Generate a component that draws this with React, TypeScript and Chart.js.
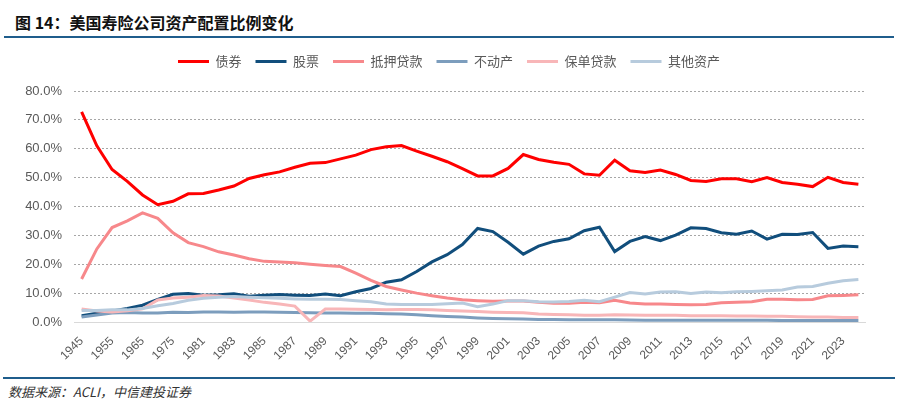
import React, { useEffect, useRef } from 'react';
import { Chart, registerables } from 'chart.js';

Chart.register(...registerables);

const years = [
  '1945', '1950', '1955', '1960', '1965', '1970', '1975', '1980', '1981', '1982',
  '1983', '1984', '1985', '1986', '1987', '1988', '1989', '1990', '1991', '1992',
  '1993', '1994', '1995', '1996', '1997', '1998', '1999', '2000', '2001', '2002',
  '2003', '2004', '2005', '2006', '2007', '2008', '2009', '2010', '2011', '2012',
  '2013', '2014', '2015', '2016', '2017', '2018', '2019', '2020', '2021', '2022',
  '2023', '2024',
];

// 债券
const bonds = [
  72.8, 61.0, 52.8, 48.7, 44.0, 40.6, 41.8, 44.4, 44.5, 45.7,
  47.1, 49.7, 51.0, 52.0, 53.6, 55.0, 55.2, 56.5, 57.8, 59.7,
  60.7, 61.1, 59.2, 57.4, 55.5, 53.1, 50.6, 50.6, 53.2, 58.0,
  56.3, 55.3, 54.6, 51.3, 50.8, 56.0, 52.4, 51.8, 52.6, 51.1,
  49.0, 48.7, 49.6, 49.6, 48.6, 50.0, 48.3, 47.7, 46.9, 50.1,
  48.3, 47.7,
];

// 股票
const stocks = [
  2.2, 3.0, 3.8, 4.7, 5.8, 7.8, 9.6, 9.9, 9.3, 9.4,
  9.8, 8.9, 9.3, 9.5, 9.3, 9.2, 9.7, 9.1, 10.5, 11.6,
  13.8, 14.6, 17.5, 20.8, 23.3, 26.8, 32.4, 31.3, 27.6, 23.5,
  26.3, 27.9, 28.8, 31.6, 32.8, 24.4, 27.9, 29.6, 28.2, 30.1,
  32.6, 32.4, 30.9, 30.4, 31.5, 28.7, 30.4, 30.3, 31.0, 25.5,
  26.3, 26.1,
];

// 抵押贷款
const mortgages = [
  14.9, 25.3, 32.7, 35.0, 37.8, 35.9, 30.9, 27.5, 26.1, 24.3,
  23.2, 21.9, 21.0, 20.8, 20.5, 20.0, 19.6, 19.2, 16.9, 14.4,
  12.3, 11.1, 10.0, 9.1, 8.3, 7.7, 7.4, 7.2, 7.3, 7.3,
  6.8, 6.5, 6.5, 6.8, 6.7, 7.5, 6.6, 6.2, 6.2, 6.1,
  6.0, 6.1, 6.7, 6.8, 7.0, 7.9, 7.9, 7.7, 7.8, 9.1,
  9.2, 9.4,
];

// 不动产
const realEstate = [
  1.7, 2.4, 3.1, 3.3, 3.1, 3.1, 3.4, 3.3, 3.5, 3.5,
  3.4, 3.5, 3.5, 3.4, 3.3, 3.2, 3.1, 3.1, 3.0, 3.0,
  2.9, 2.8, 2.5, 2.2, 1.9, 1.7, 1.4, 1.2, 1.1, 1.0,
  0.9, 0.9, 0.8, 0.8, 0.8, 0.8, 0.7, 0.6, 0.6, 0.6,
  0.6, 0.6, 0.6, 0.6, 0.6, 0.6, 0.5, 0.5, 0.5, 0.5,
  0.5, 0.5,
];

// 保单贷款
const policyLoans = [
  4.5, 3.8, 3.5, 3.9, 4.6, 7.6, 8.3, 8.6, 9.2, 9.0,
  8.3, 7.6, 6.8, 6.2, 5.5, 0.3, 4.5, 4.5, 4.4, 4.3,
  4.2, 4.3, 4.3, 4.2, 4.0, 3.8, 3.6, 3.4, 3.3, 3.2,
  2.8, 2.6, 2.5, 2.3, 2.3, 2.5, 2.4, 2.3, 2.3, 2.3,
  2.2, 2.2, 2.2, 2.1, 2.1, 2.0, 2.0, 1.8, 1.7, 1.7,
  1.6, 1.6,
];

// 其他资产
const otherAssets = [
  4.0, 4.0, 4.2, 4.2, 4.7, 5.6, 6.4, 7.5, 8.2, 8.6,
  8.8, 8.6, 8.4, 8.2, 8.0, 7.9, 7.9, 7.8, 7.4, 7.0,
  6.2, 6.1, 6.1, 6.1, 6.3, 6.6, 5.3, 6.2, 7.4, 7.4,
  7.0, 6.9, 7.1, 7.5, 7.0, 8.6, 10.2, 9.7, 10.4, 10.5,
  9.9, 10.4, 10.1, 10.5, 10.6, 10.8, 11.1, 12.1, 12.3, 13.4,
  14.3, 14.7,
];

const seriesNames = ['债券', '股票', '抵押贷款', '不动产', '保单贷款', '其他资产'];
const seriesData = [bonds, stocks, mortgages, realEstate, policyLoans, otherAssets];
const seriesColors = ['#FF0000', '#114E7C', '#F7888B', '#7C9DBD', '#F8B6B8', '#B7CBDD'];

const FONT = '"Liberation Sans", "Noto Sans CJK SC", sans-serif';

// pushes the plot down a bit below the legend
const legendGap = {
  id: 'legendGap',
  beforeInit(chart: any) {
    const legend = chart.legend;
    if (!legend) return;
    const fit = legend.fit;
    legend.fit = function () {
      fit.call(this);
      this.height += 13;
    };
  },
};

const AllocationChart: React.FC = () => {
  const chartRef = useRef<HTMLCanvasElement>(null);
  const chartInstance = useRef<Chart | null>(null);

  useEffect(() => {
    if (!chartRef.current) return;
    const ctx = chartRef.current.getContext('2d');
    if (!ctx) return;
    if (chartInstance.current) chartInstance.current.destroy();

    chartInstance.current = new Chart(ctx, {
      type: 'line',
      data: {
        labels: years,
        datasets: seriesNames.map((name, i) => ({
          label: name,
          data: seriesData[i],
          borderColor: seriesColors[i],
          backgroundColor: seriesColors[i],
          borderWidth: 3,
          pointRadius: 0,
          tension: 0,
          order: seriesNames.length - i,
        })),
      },
      options: {
        animation: false,
        responsive: true,
        maintainAspectRatio: false,
        layout: { padding: 0 },
        plugins: {
          tooltip: { enabled: false },
          legend: {
            display: true,
            position: 'top',
            labels: {
              boxWidth: 31,
              boxHeight: 3,
              padding: 14,
              color: '#595959',
              font: { family: '"Noto Sans CJK SC", sans-serif', size: 13 },
              sort: (a, b) => (a.datasetIndex ?? 0) - (b.datasetIndex ?? 0),
              generateLabels: (chart) => {
                const items = Chart.defaults.plugins.legend.labels.generateLabels(chart);
                return items.map((it) => ({ ...it, lineWidth: 0, fillStyle: it.strokeStyle }));
              },
            },
          },
        },
        scales: {
          x: {
            offset: true,
            grid: { display: false },
            border: { display: false },
            afterFit: (s) => {
              s.height = 49;
            },
            ticks: {
              autoSkip: false,
              maxRotation: 45,
              minRotation: 45,
              padding: 4,
              color: '#595959',
              font: { family: FONT, size: 12 },
              callback: (_v, i) => (i % 2 === 0 ? years[i] : ''),
            },
          },
          y: {
            min: 0,
            max: 80,
            afterFit: (s) => {
              s.width = 74;
            },
            grid: {
              drawTicks: false,
              lineWidth: 1,
              color: (c) => (c.tick && c.tick.value === 0 ? '#D9D9D9' : '#A6A6A6'),
            },
            border: {
              display: false,
              dash: (c) => (c.tick && c.tick.value === 0 ? [] : [2, 2]),
            },
            ticks: {
              stepSize: 10,
              padding: 12,
              color: '#595959',
              font: { family: FONT, size: 13 },
              callback: (v) => Number(v).toFixed(1) + '%',
            },
          },
          // empty right-hand margin so the legend stays centred on the page
          yRight: {
            position: 'right',
            grid: { display: false },
            border: { display: false },
            ticks: { display: false },
            afterFit: (s) => {
              s.width = 32;
            },
          },
        },
      },
      plugins: [legendGap],
    });

    return () => {
      if (chartInstance.current) {
        chartInstance.current.destroy();
        chartInstance.current = null;
      }
    };
  }, []);

  return <canvas ref={chartRef} />;
};

export default function App() {
  return (
    <div
      style={{
        position: 'absolute',
        left: 0,
        top: 0,
        width: 898,
        height: 406,
        background: '#fff',
        overflow: 'hidden',
        fontFamily: '"Noto Sans CJK SC", sans-serif',
      }}
    >
      <div
        style={{
          position: 'absolute',
          left: 15,
          top: 10,
          fontSize: 16,
          fontWeight: 700,
          color: '#111',
          lineHeight: '24px',
        }}
      >
        图 14：美国寿险公司资产配置比例变化
      </div>
      <div style={{ position: 'absolute', left: 4, top: 36, width: 890, height: 2, background: '#1F5D8C' }} />
      <div style={{ position: 'absolute', left: 0, top: 41, width: 898, height: 330 }}>
        <AllocationChart />
      </div>
      <div style={{ position: 'absolute', left: 3, top: 377, width: 892, height: 2, background: '#1F5D8C' }} />
      <div
        style={{
          position: 'absolute',
          left: 8,
          top: 382,
          fontSize: 13,
          fontStyle: 'italic',
          color: '#333',
          lineHeight: '20px',
        }}
      >
        数据来源：ACLI，中信建投证券
      </div>
    </div>
  );
}
